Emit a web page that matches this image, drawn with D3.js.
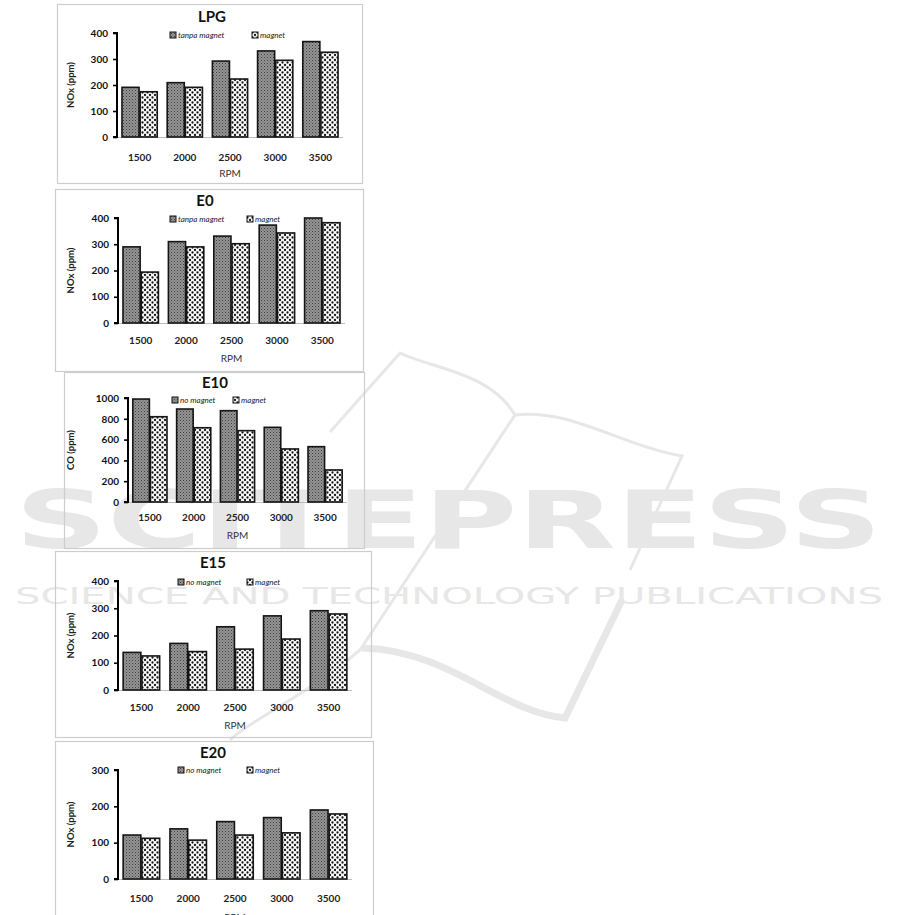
<!DOCTYPE html>
<html>
<head>
<meta charset="utf-8">
<script src="https://cdn.jsdelivr.net/npm/d3@7"></script>
<style>
  html, body { margin: 0; padding: 0; background: #fff; }
  svg { display: block; }
  text { font-family: Lato, "Open Sans", "Liberation Sans", sans-serif; }
</style>
</head>
<body>
<svg id="chart" width="901" height="915"></svg>
<script>
// ---------- DATA ----------
const categories = ["1500", "2000", "2500", "3000", "3500"];

const lpgNoMagnet = [191, 209, 292, 331, 367];
const lpgMagnet   = [174, 191, 223, 295, 326];

const e0NoMagnet  = [290, 310, 331, 373, 400];
const e0Magnet    = [194, 290, 302, 343, 382];

const e10NoMagnet = [990, 894, 878, 718, 532];
const e10Magnet   = [820, 714, 686, 510, 308];

const e15NoMagnet = [138, 171, 232, 272, 291];
const e15Magnet   = [125, 141, 150, 187, 279];

const e20NoMagnet = [121, 138, 158, 169, 190];
const e20Magnet   = [112, 107, 121, 127, 179];

const ticksNOx400 = [0, 100, 200, 300, 400];
const ticksCO1000 = [0, 200, 400, 600, 800, 1000];
const ticksNOx300 = [0, 100, 200, 300];

const legendTanpa = ["tanpa magnet", "magnet"];
const legendNo    = ["no magnet", "magnet"];

// ---------- LAYOUT ----------
const panels = [
  { title: "LPG", series: [lpgNoMagnet, lpgMagnet], legend: legendTanpa, ticks: ticksNOx400, ylabel: "NOx (ppm)",
    frame: [57, 4, 362, 183], x0: 117, x1: 343, yBase: 137, yTop: 33, titleX: 212, titleY: 17, catY: 157, rpmY: 173,
    legY: 35, lx: [170, 252] },
  { title: "E0", series: [e0NoMagnet, e0Magnet], legend: legendTanpa, ticks: ticksNOx400, ylabel: "NOx (ppm)",
    frame: [55, 189, 363, 371], x0: 118, x1: 345, yBase: 323, yTop: 218, titleX: 205, titleY: 201, catY: 340, rpmY: 358,
    legY: 219, lx: [170, 247] },
  { title: "E10", series: [e10NoMagnet, e10Magnet], legend: legendNo, ticks: ticksCO1000, ylabel: "CO (ppm)",
    frame: [64, 372, 364, 548], x0: 128, x1: 347, yBase: 502, yTop: 398, titleX: 215, titleY: 383, catY: 517, rpmY: 535,
    legY: 400, lx: [172, 233] },
  { title: "E15", series: [e15NoMagnet, e15Magnet], legend: legendNo, ticks: ticksNOx400, ylabel: "NOx (ppm)",
    frame: [55, 551, 371, 737], x0: 118, x1: 352, yBase: 690, yTop: 581, titleX: 213, titleY: 563, catY: 707, rpmY: 725,
    legY: 582, lx: [178, 247] },
  { title: "E20", series: [e20NoMagnet, e20Magnet], legend: legendNo, ticks: ticksNOx300, ylabel: "NOx (ppm)",
    frame: [55, 741, 373, 930], x0: 118, x1: 352, yBase: 879, yTop: 770, titleX: 213, titleY: 753, catY: 898, rpmY: 917,
    legY: 770, lx: [178, 247] }
];

const svg = d3.select("#chart");

// ---------- PATTERNS ----------
const defs = svg.append("defs");
const p1 = defs.append("pattern").attr("id", "pat0").attr("patternUnits", "userSpaceOnUse")
  .attr("width", 3).attr("height", 3);
p1.append("rect").attr("width", 3).attr("height", 3).attr("fill", "#959595");
p1.append("rect").attr("x", 0).attr("y", 0).attr("width", 1).attr("height", 1).attr("fill", "#3e3e3e");
p1.append("rect").attr("x", 1.5).attr("y", 1.5).attr("width", 1).attr("height", 1).attr("fill", "#555");

const p2 = defs.append("pattern").attr("id", "pat1").attr("patternUnits", "userSpaceOnUse")
  .attr("width", 5).attr("height", 5);
p2.append("rect").attr("width", 5).attr("height", 5).attr("fill", "#fafafa");
[[0, 0], [5, 0], [0, 5], [5, 5], [2.5, 2.5]].forEach(([cx, cy]) =>
  p2.append("circle").attr("cx", cx).attr("cy", cy).attr("r", 1.15).attr("fill", "#151515"));

// ---------- WATERMARK (background) ----------
const wm = svg.append("g").attr("fill", "none").attr("stroke", "#e6e7e6");
wm.append("path").attr("stroke-width", 3)
  .attr("d", "M330,432 L400,353 C430,368 490,372 515,415 C570,408 620,445 682,456 L630,570");
wm.append("path").attr("stroke-width", 3)
  .attr("d", "M515,415 L360,650 C300,700 250,720 230,740");
wm.append("path").attr("stroke-width", 7)
  .attr("d", "M622,600 L565,718 C500,712 450,650 362,648");
const wmt = svg.append("g").attr("fill", "#e6e7e6");
wmt.append("text").attr("x", 15).attr("y", 548)
  .attr("textLength", 867).attr("lengthAdjust", "spacingAndGlyphs")
  .style("font-family", "'DejaVu Sans', sans-serif").style("font-weight", "bold").style("font-size", "80px")
  .text("SCITEPRESS");
wmt.append("text").attr("x", 15).attr("y", 604)
  .attr("textLength", 868).attr("lengthAdjust", "spacingAndGlyphs")
  .style("font-family", "'DejaVu Sans', sans-serif").style("font-size", "23px")
  .text("SCIENCE AND TECHNOLOGY PUBLICATIONS");

// ---------- PANELS ----------
panels.forEach(p => {
  const g = svg.append("g");
  const [fx0, fy0, fx1, fy1] = p.frame;
  g.append("rect").attr("x", fx0 + 0.5).attr("y", fy0 + 0.5)
    .attr("width", fx1 - fx0).attr("height", fy1 - fy0)
    .attr("fill", "none").attr("stroke", "#cdcdcd").attr("stroke-width", 1.2);

  const yMax = p.ticks[p.ticks.length - 1];
  const y = d3.scaleLinear().domain([0, yMax]).range([p.yBase, p.yTop]);
  const x = d3.scaleBand().domain(categories).range([p.x0, p.x1]).paddingInner(0.22).paddingOuter(0.11);
  const xs = d3.scaleBand().domain([0, 1]).range([0, x.bandwidth()]).paddingInner(0.06);

  // x axis (light grey baseline)
  g.append("line").attr("x1", p.x0).attr("x2", p.x1).attr("y1", p.yBase + 0.5).attr("y2", p.yBase + 0.5)
    .attr("stroke", "#bdbdbd").attr("stroke-width", 1.2);

  // bars
  p.series.forEach((vals, si) => {
    g.append("g").selectAll("rect").data(vals).join("rect")
      .attr("x", (d, i) => x(categories[i]) + xs(si))
      .attr("y", d => y(d))
      .attr("width", xs.bandwidth())
      .attr("height", d => p.yBase - y(d))
      .attr("fill", `url(#pat${si})`)
      .attr("stroke", "#151515").attr("stroke-width", 1.6);
  });

  // y axis
  const yAxis = d3.axisLeft(y).tickValues(p.ticks).tickSize(4).tickPadding(5).tickFormat(d3.format("d"));
  const ya = g.append("g").attr("transform", `translate(${p.x0},0)`).call(yAxis);
  ya.select(".domain").attr("stroke", "#000").attr("stroke-width", 2)
    .attr("d", `M-4,${p.yTop}H0V${p.yBase}H-4`);
  ya.selectAll(".tick line").attr("stroke", "#000").attr("stroke-width", 1.6);
  ya.selectAll(".tick text").attr("fill", "#111").style("font-size", "10px").style("font-weight", "bold")
    .style("font-family", "Lato, 'Open Sans', sans-serif");

  // category labels
  g.append("g").selectAll("text").data(categories).join("text")
    .attr("x", d => x(d) + x.bandwidth() / 2).attr("y", p.catY).attr("dy", "0.35em")
    .attr("text-anchor", "middle").attr("fill", "#222")
    .style("font-size", "10px").style("font-weight", "bold").text(d => d);

  // x title
  g.append("text").attr("x", (p.x0 + p.x1) / 2).attr("y", p.rpmY).attr("dy", "0.35em")
    .attr("text-anchor", "middle").attr("fill", "#333").style("font-size", "10px").text("RPM");

  // y title
  g.append("text").attr("transform", `translate(71,${(p.yBase + p.yTop) / 2}) rotate(-90)`)
    .attr("text-anchor", "middle").attr("dy", "0.35em").attr("fill", "#222")
    .style("font-size", "9.5px").style("font-weight", "bold").text(p.ylabel);

  // chart title
  g.append("text").attr("x", p.titleX).attr("y", p.titleY).attr("dy", "0.35em")
    .attr("text-anchor", "middle").attr("fill", "#111")
    .style("font-size", "15px").style("font-weight", "bold").text(p.title);

  // legend
  p.legend.forEach((lab, li) => {
    const lx = p.lx[li];
    g.append("rect").attr("x", lx).attr("y", p.legY - 3).attr("width", 6).attr("height", 6)
      .attr("fill", `url(#pat${li})`).attr("stroke", "#111").attr("stroke-width", 1);
    g.append("text").attr("x", lx + 8).attr("y", p.legY).attr("dy", "0.35em")
      .attr("fill", "#222").style("font-size", "8px").style("font-style", "italic").text(lab);
  });
});
</script>
</body>
</html>
